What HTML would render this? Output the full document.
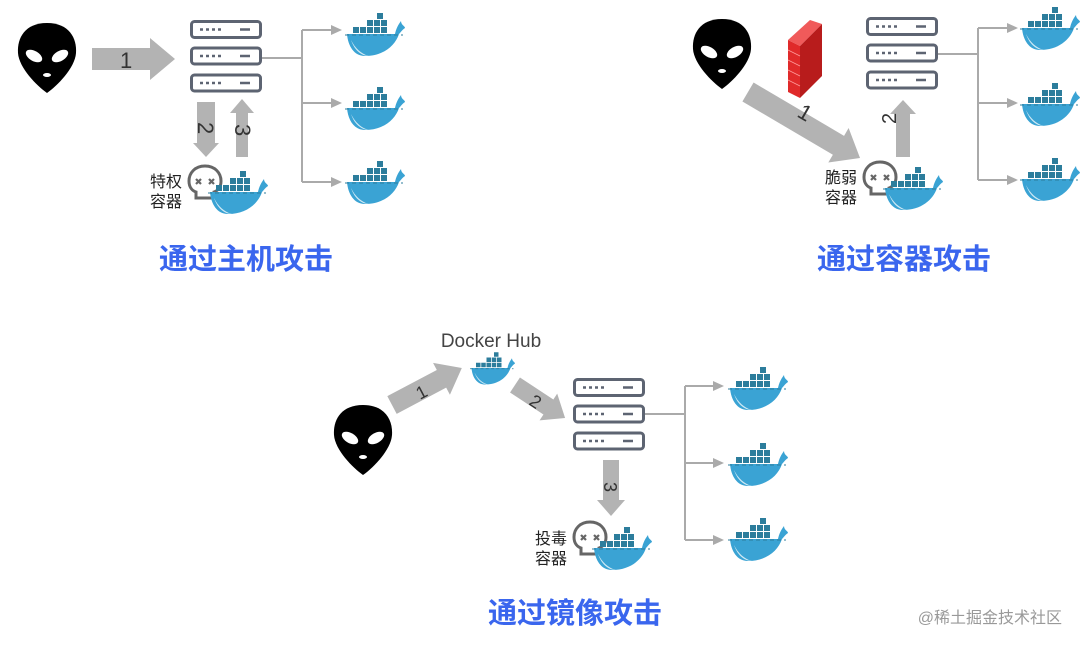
<!DOCTYPE html>
<html><head><meta charset="utf-8"><style>
html,body{margin:0;padding:0;background:#fff;}
svg{display:block;}
.t{font-family:"Liberation Sans","Noto Sans CJK SC",sans-serif;}
</style></head><body>
<svg width="1080" height="646" viewBox="0 0 1080 646" xmlns="http://www.w3.org/2000/svg">
<defs>
<g id="alien">
<path d="M0,-35 C22,-35 30,-20 29,-5 C28,10 10,28 0,35 C-10,28 -28,10 -29,-5 C-30,-20 -22,-35 0,-35Z" fill="#000"/>
<ellipse cx="-13" cy="-2" rx="9" ry="5" transform="rotate(30 -13 -2)" fill="#fff"/>
<ellipse cx="13" cy="-2" rx="9" ry="5" transform="rotate(-30 13 -2)" fill="#fff"/>
<ellipse cx="0" cy="17" rx="4" ry="2" fill="#fff"/>
</g>
<g id="server" fill="none" stroke="#5d6472" stroke-width="3">
<rect x="1.5" y="1.5" width="69" height="16" rx="3"/>
<rect x="1.5" y="28" width="69" height="16" rx="3"/>
<rect x="1.5" y="55" width="69" height="16" rx="3"/>
<g stroke-width="2.5"><path d="M10,9.5h3M16,9.5h3M22,9.5h3M28,9.5h3M50,9.5h10"/><path d="M10,36h3M16,36h3M22,36h3M28,36h3M50,36h10"/><path d="M10,63h3M16,63h3M22,63h3M28,63h3M50,63h10"/></g>
</g>
<g id="whale">
<path d="M2,24 L50,24 C51,19 53,15 56,11 C56,15 60,16 60,18 C57,20 56,22 54,24 C50,36 38,46 20,46 C9,46 3,36 2,24Z" fill="#3aa3d4"/>
<path d="M6,30 C10,42 18,46 24,46 C16,44 10,38 6,30Z" fill="#cfe9f4"/>
<g fill="#2c7d9c">
<rect x="8" y="17" width="6" height="6"/><rect x="15" y="17" width="6" height="6"/><rect x="22" y="17" width="6" height="6"/><rect x="29" y="17" width="6" height="6"/><rect x="36" y="17" width="6" height="6"/>
<rect x="22" y="10" width="6" height="6"/><rect x="29" y="10" width="6" height="6"/><rect x="36" y="10" width="6" height="6"/>
<rect x="32" y="3" width="6" height="6"/>
</g>
<path d="M0,25 H58" stroke="#2c7d9c" stroke-width="1" stroke-dasharray="4 3"/>
</g>
<g id="skull">
<path d="M0,-16 C10,-16 16,-9 16,-1 C16,6 12,9 9,10 V16 H-9 V10 C-12,9 -16,6 -16,-1 C-16,-9 -10,-16 0,-16Z" fill="#fff" stroke="#666" stroke-width="3"/>
<path d="M-9,-3 l5,5 M-4,-3 l-5,5 M4,-3 l5,5 M9,-3 l-5,5" stroke="#666" stroke-width="2.2"/>
</g>
</defs>

<g fill="#b3b3b3">
<polygon points="92,48 150,48 150,38 175,59 150,80 150,70 92,70"/>
<polygon points="197,102 215,102 215,143 219,143 206,157 193,143 197,143"/>
<polygon points="236,157 248,157 248,113 254,113 242,99 230,113 236,113"/>
<polygon points="0,-11 105,-11 105,-20 130,0 105,20 105,11 0,11" transform="translate(748,92) rotate(30.5)"/>
<polygon points="896,157 910,157 910,114 916,114 903,100 890,114 896,114"/>
<polygon points="0,-10 56,-10 56,-18 79,0 56,18 56,10 0,10" transform="translate(392,405) rotate(-27.9)"/>
<polygon points="0,-9 40,-9 40,-16 60,0 40,16 40,9 0,9" transform="translate(515,385) rotate(33.4)"/>
<polygon points="603,460 619,460 619,500 625,500 611,516 597,500 603,500"/>
</g>

<g class="t" fill="#333" font-size="22">
<text x="120" y="68">1</text>
<text transform="translate(198,122) rotate(90)">2</text>
<text transform="translate(235,124) rotate(90)">3</text>
<text transform="translate(796,116) rotate(30)">1</text>
<text transform="translate(896,124) rotate(-90)" font-size="20">2</text>
<text transform="translate(420,400) rotate(-28)" font-size="18">1</text>
<text transform="translate(528,404) rotate(33)" font-size="18">2</text>
<text transform="translate(604,482) rotate(90)" font-size="18">3</text>
</g>

<g stroke="#aaa" stroke-width="2" fill="none">
<path d="M262,58 H302 M302,30 V182 M302,30 H332 M302,103 H332 M302,182 H332"/>
<path d="M938,54 H978 M978,28 V180 M978,28 H1012 M978,103 H1012 M978,180 H1012"/>
<path d="M645,414 H685 M685,386 V540 M685,386 H716 M685,463 H716 M685,540 H716"/>
</g>
<g fill="#aaa">
<path d="M342,30 l-11,-5 v10z M342,103 l-11,-5 v10z M342,182 l-11,-5 v10z"/>
<path d="M1018,28 l-11,-5 v10z M1018,103 l-11,-5 v10z M1018,180 l-11,-5 v10z"/>
<path d="M724,386 l-11,-5 v10z M724,463 l-11,-5 v10z M724,540 l-11,-5 v10z"/>
</g>

<use href="#alien" x="47" y="58"/>
<use href="#alien" x="722" y="54"/>
<use href="#alien" x="363" y="440"/>

<use href="#server" x="190" y="20"/>
<use href="#server" x="866" y="17"/>
<use href="#server" x="573" y="378"/>

<g>
<polygon points="788,40 810,20 822,24 800,46" fill="#f05a5a"/>
<polygon points="800,46 822,24 822,76 800,98" fill="#b81c1c"/>
<polygon points="788,40 800,46 800,98 788,92" fill="#e02a2a"/>
<g stroke="#ff9a9a" stroke-width="0.8"><path d="M788,50 L800,56 M788,60 L800,66 M788,70 L800,76 M788,80 L800,86"/></g>
</g>

<use href="#whale" x="345" y="10"/>
<use href="#whale" x="345" y="84"/>
<use href="#whale" x="345" y="158"/>
<use href="#whale" x="1020" y="4"/>
<use href="#whale" x="1020" y="80"/>
<use href="#whale" x="1020" y="155"/>
<use href="#whale" x="728" y="364"/>
<use href="#whale" x="728" y="440"/>
<use href="#whale" x="728" y="515"/>
<use href="#whale" transform="translate(470,350) scale(0.75)"/>

<use href="#skull" x="205" y="182"/>
<use href="#whale" x="208" y="168"/>
<use href="#skull" x="880" y="178"/>
<use href="#whale" x="883" y="164"/>
<use href="#skull" x="590" y="538"/>
<use href="#whale" x="592" y="524"/>

<g class="t" fill="#222" font-size="16">
<text x="150" y="187">特权</text><text x="150" y="207">容器</text>
<text x="825" y="183">脆弱</text><text x="825" y="203">容器</text>
<text x="535" y="544">投毒</text><text x="535" y="564">容器</text>
</g>
<text class="t" x="491" y="347" font-size="19" fill="#444" text-anchor="middle">Docker Hub</text>

<g class="t" fill="#3a66ee" font-size="29" font-weight="bold" text-anchor="middle">
<text x="246" y="269">通过主机攻击</text>
<text x="904" y="269">通过容器攻击</text>
<text x="575" y="623">通过镜像攻击</text>
</g>
<text class="t" x="1062" y="623" font-size="16" fill="#999" text-anchor="end">@稀土掘金技术社区</text>
</svg>
</body></html>
